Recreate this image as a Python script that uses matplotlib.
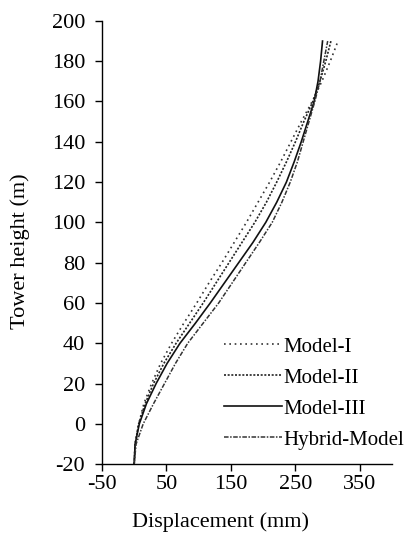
import matplotlib
matplotlib.use("Agg")
import matplotlib.pyplot as plt

heights = [-20, -10, 0, 10, 20, 30, 40, 50, 60, 70, 80, 90, 100, 110, 120, 130, 140, 150, 160, 170, 180, 190]
model_1 = [0, 1.5, 7, 15, 27, 41, 58, 77, 97, 116, 136, 155, 174, 192, 210, 227, 243, 259, 276, 291, 304, 316]
model_2 = [0, 1.5, 7, 17, 30, 46, 65, 86, 107, 127, 147, 167, 187, 205, 221, 236, 250, 263, 277, 288, 297, 305]
model_3 = [0, 1.5, 8, 19, 34, 51, 71, 95, 118, 140, 162, 184, 204, 221, 236, 248, 259, 269, 279, 285, 289, 292]
hybrid = [0, 3, 14, 30, 47, 64, 83, 107, 131, 152, 173, 194, 214, 229, 242, 253, 262, 271, 280, 288, 294, 300]

labels = ["Model-I", "Model-II", "Model-III", "Hybrid-Model"]
xticks = [-50, 50, 150, 250, 350]
yticks = list(range(-20, 201, 20))

plt.rcParams['font.family'] = ['Liberation Serif', 'DejaVu Serif']
plt.rcParams['axes.unicode_minus'] = False

fig = plt.figure(figsize=(4.06, 5.36), dpi=100)
ax = fig.add_axes([0.251, 0.134, 0.715, 0.827])

ax.plot(model_1, heights, color='#333333', lw=1.2, linestyle=(0, (1, 2.2)), label=labels[0])
ax.plot(model_2, heights, color='#222222', lw=1.2, linestyle=(0, (1.2, 1)), label=labels[1])
ax.plot(model_3, heights, color='#111111', lw=1.2, linestyle='-', label=labels[2])
ax.plot(hybrid, heights, color='#333333', lw=1.1, linestyle=(0, (3, 1, 1, 1)), label=labels[3])

ax.set_xlim(-50, 400)
ax.set_ylim(-20, 200)
ax.set_xticks(xticks)
ax.set_yticks(yticks)
ax.tick_params(direction='out', length=5, width=1, labelsize=16)
ax.tick_params(axis='y', pad=7)
ax.tick_params(axis='x', pad=3)
for s in ['top', 'right']:
    ax.spines[s].set_visible(False)
for s in ['left', 'bottom']:
    ax.spines[s].set_linewidth(1.0)

ax.set_xlabel("Displacement (mm)", fontsize=16)
ax.set_ylabel("Tower height (m)", fontsize=16)
ax.xaxis.set_label_coords(0.407, -0.131, transform=ax.transAxes)
ax.yaxis.set_label_coords(-0.283, 0.48, transform=ax.transAxes)
ax.xaxis.label.set_va('center')
ax.yaxis.label.set_va('center')

leg = ax.legend(loc='upper left', bbox_to_anchor=(0.42, 0.287), frameon=False,
                fontsize=15, handlelength=2.8, handletextpad=0.05,
                labelspacing=0.55, borderaxespad=0, borderpad=0)

fig.savefig("out.png", dpi=100)
